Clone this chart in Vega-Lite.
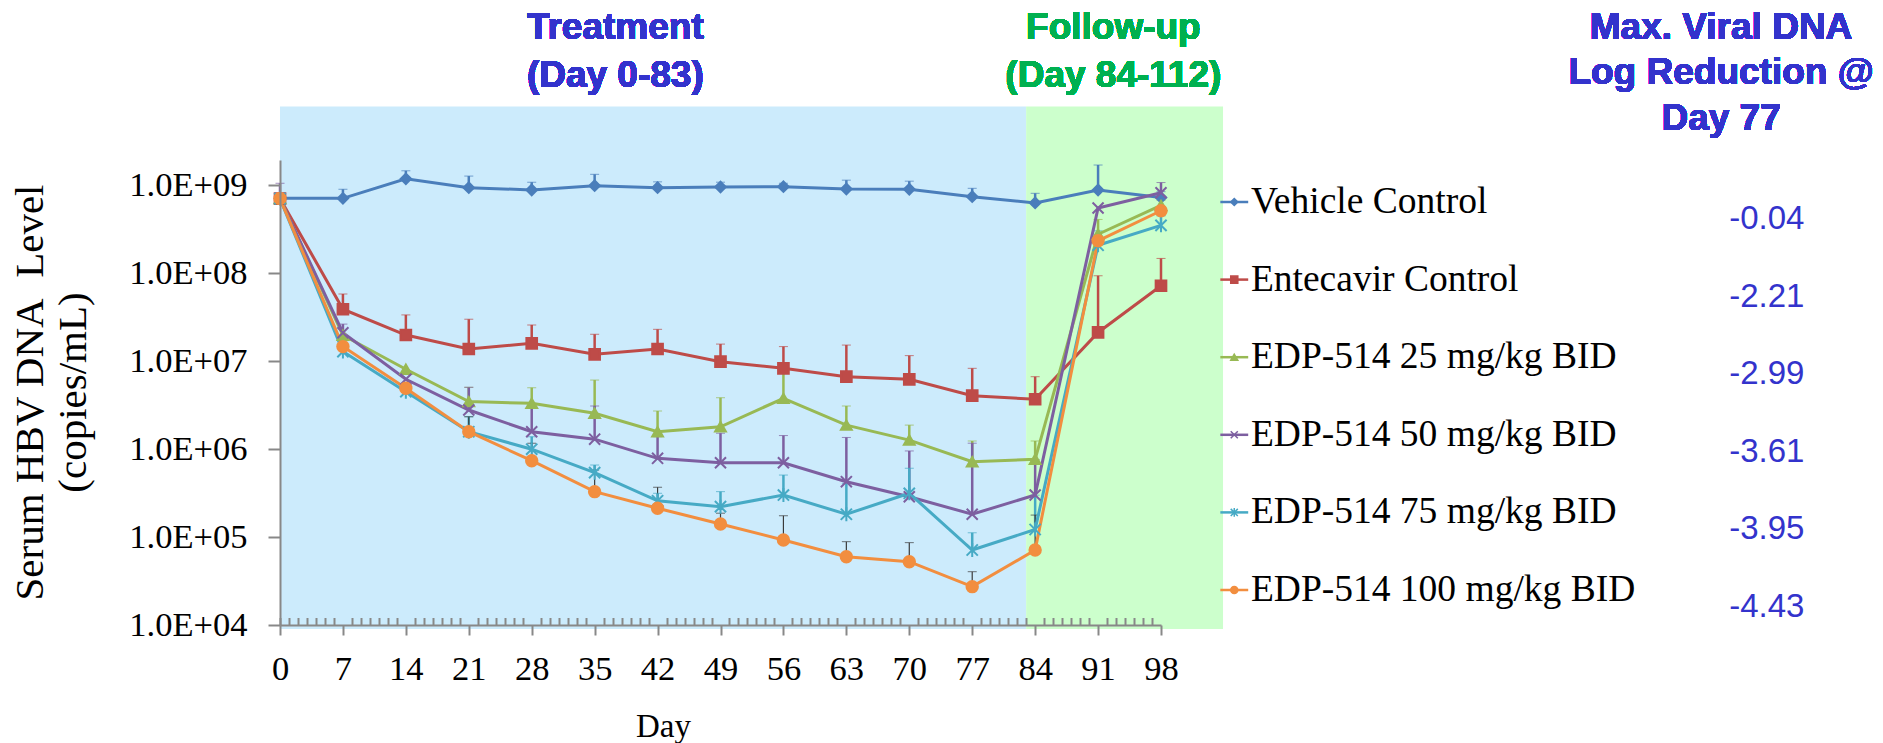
{
  "$schema": "https://vega.github.io/schema/vega-lite/v6.json",
  "width": 881,
  "height": 465,
  "autosize": {"type": "none"},
  "padding": {"left": 280, "top": 160, "right": 722, "bottom": 118},
  "background": "white",
  "config": {"view": {"stroke": null}, "font": "Liberation Serif"},
  "datasets": {
    "hbv": [
      {"series": "Vehicle Control", "day": 0, "value": 7.14e8, "upper": null},
      {"series": "Vehicle Control", "day": 7, "value": 7.14e8, "upper": 9.06e8},
      {"series": "Vehicle Control", "day": 14, "value": 1.19e9, "upper": 1.47e9},
      {"series": "Vehicle Control", "day": 21, "value": 9.44e8, "upper": 1.28e9},
      {"series": "Vehicle Control", "day": 28, "value": 8.89e8, "upper": 1.09e9},
      {"series": "Vehicle Control", "day": 35, "value": 9.95e8, "upper": 1.34e9},
      {"series": "Vehicle Control", "day": 42, "value": 9.44e8, "upper": 1.10e9},
      {"series": "Vehicle Control", "day": 49, "value": 9.62e8, "upper": 1.09e9},
      {"series": "Vehicle Control", "day": 56, "value": 9.70e8, "upper": 1.06e9},
      {"series": "Vehicle Control", "day": 63, "value": 9.12e8, "upper": 1.15e9},
      {"series": "Vehicle Control", "day": 70, "value": 9.06e8, "upper": 1.12e9},
      {"series": "Vehicle Control", "day": 77, "value": 7.46e8, "upper": 9.29e8},
      {"series": "Vehicle Control", "day": 84, "value": 6.34e8, "upper": 8.15e8},
      {"series": "Vehicle Control", "day": 91, "value": 8.89e8, "upper": 1.71e9},
      {"series": "Vehicle Control", "day": 98, "value": 7.28e8, "upper": 8.5e8},
      {"series": "Entecavir Control", "day": 0, "value": 7.1e8, "upper": null},
      {"series": "Entecavir Control", "day": 7, "value": 3.91e7, "upper": 5.83e7},
      {"series": "Entecavir Control", "day": 14, "value": 1.99e7, "upper": 3.37e7},
      {"series": "Entecavir Control", "day": 21, "value": 1.38e7, "upper": 3.01e7},
      {"series": "Entecavir Control", "day": 28, "value": 1.60e7, "upper": 2.59e7},
      {"series": "Entecavir Control", "day": 35, "value": 1.20e7, "upper": 2.03e7},
      {"series": "Entecavir Control", "day": 42, "value": 1.38e7, "upper": 2.31e7},
      {"series": "Entecavir Control", "day": 49, "value": 9.91e6, "upper": 1.57e7},
      {"series": "Entecavir Control", "day": 56, "value": 8.32e6, "upper": 1.47e7},
      {"series": "Entecavir Control", "day": 63, "value": 6.68e6, "upper": 1.53e7},
      {"series": "Entecavir Control", "day": 70, "value": 6.24e6, "upper": 1.16e7},
      {"series": "Entecavir Control", "day": 77, "value": 4.06e6, "upper": 8.32e6},
      {"series": "Entecavir Control", "day": 84, "value": 3.7e6, "upper": 6.68e6},
      {"series": "Entecavir Control", "day": 91, "value": 2.13e7, "upper": 9.4e7},
      {"series": "Entecavir Control", "day": 98, "value": 7.23e7, "upper": 1.48e8},
      {"series": "EDP-514 25 mg/kg BID", "day": 0, "value": 7.1e8, "upper": null},
      {"series": "EDP-514 25 mg/kg BID", "day": 7, "value": 1.98e7, "upper": null},
      {"series": "EDP-514 25 mg/kg BID", "day": 14, "value": 8.11e6, "upper": null},
      {"series": "EDP-514 25 mg/kg BID", "day": 21, "value": 3.48e6, "upper": 5.06e6},
      {"series": "EDP-514 25 mg/kg BID", "day": 28, "value": 3.33e6, "upper": 5.01e6},
      {"series": "EDP-514 25 mg/kg BID", "day": 35, "value": 2.56e6, "upper": 6.12e6},
      {"series": "EDP-514 25 mg/kg BID", "day": 42, "value": 1.58e6, "upper": 2.72e6},
      {"series": "EDP-514 25 mg/kg BID", "day": 49, "value": 1.80e6, "upper": 3.85e6},
      {"series": "EDP-514 25 mg/kg BID", "day": 56, "value": 3.79e6, "upper": 7.96e6},
      {"series": "EDP-514 25 mg/kg BID", "day": 63, "value": 1.88e6, "upper": 3.10e6},
      {"series": "EDP-514 25 mg/kg BID", "day": 70, "value": 1.27e6, "upper": 1.88e6},
      {"series": "EDP-514 25 mg/kg BID", "day": 77, "value": 7.21e5, "upper": 1.24e6},
      {"series": "EDP-514 25 mg/kg BID", "day": 84, "value": 7.67e5, "upper": 1.24e6},
      {"series": "EDP-514 25 mg/kg BID", "day": 91, "value": 2.79e8, "upper": 4.11e8},
      {"series": "EDP-514 25 mg/kg BID", "day": 98, "value": 5.93e8, "upper": 6.79e8},
      {"series": "EDP-514 50 mg/kg BID", "day": 0, "value": 7.1e8, "upper": 1.06e9},
      {"series": "EDP-514 50 mg/kg BID", "day": 7, "value": 2.11e7, "upper": 2.65e7},
      {"series": "EDP-514 50 mg/kg BID", "day": 14, "value": 6.24e6, "upper": null},
      {"series": "EDP-514 50 mg/kg BID", "day": 21, "value": 2.79e6, "upper": 5.06e6},
      {"series": "EDP-514 50 mg/kg BID", "day": 28, "value": 1.58e6, "upper": 2.92e6},
      {"series": "EDP-514 50 mg/kg BID", "day": 35, "value": 1.30e6, "upper": 3.10e6},
      {"series": "EDP-514 50 mg/kg BID", "day": 42, "value": 7.87e5, "upper": 1.39e6},
      {"series": "EDP-514 50 mg/kg BID", "day": 49, "value": 7.02e5, "upper": 1.52e6},
      {"series": "EDP-514 50 mg/kg BID", "day": 56, "value": 7.02e5, "upper": 1.43e6},
      {"series": "EDP-514 50 mg/kg BID", "day": 63, "value": 4.27e5, "upper": 1.36e6},
      {"series": "EDP-514 50 mg/kg BID", "day": 70, "value": 2.88e5, "upper": 9.55e5},
      {"series": "EDP-514 50 mg/kg BID", "day": 77, "value": 1.82e5, "upper": 1.17e6},
      {"series": "EDP-514 50 mg/kg BID", "day": 84, "value": 3.01e5, "upper": 7.6e5},
      {"series": "EDP-514 50 mg/kg BID", "day": 91, "value": 5.55e8, "upper": null},
      {"series": "EDP-514 50 mg/kg BID", "day": 98, "value": 8.28e8, "upper": 1.08e9},
      {"series": "EDP-514 75 mg/kg BID", "day": 0, "value": 7.1e8, "upper": null},
      {"series": "EDP-514 75 mg/kg BID", "day": 7, "value": 1.29e7, "upper": null},
      {"series": "EDP-514 75 mg/kg BID", "day": 14, "value": 4.51e6, "upper": null},
      {"series": "EDP-514 75 mg/kg BID", "day": 21, "value": 1.58e6, "upper": 2.34e6},
      {"series": "EDP-514 75 mg/kg BID", "day": 28, "value": 1.0e6, "upper": 1.39e6},
      {"series": "EDP-514 75 mg/kg BID", "day": 35, "value": 5.41e5, "upper": 6.61e5},
      {"series": "EDP-514 75 mg/kg BID", "day": 42, "value": 2.59e5, "upper": 3.15e5},
      {"series": "EDP-514 75 mg/kg BID", "day": 49, "value": 2.22e5, "upper": 3.29e5},
      {"series": "EDP-514 75 mg/kg BID", "day": 56, "value": 3.01e5, "upper": 5.08e5},
      {"series": "EDP-514 75 mg/kg BID", "day": 63, "value": 1.82e5, "upper": 4.09e5},
      {"series": "EDP-514 75 mg/kg BID", "day": 70, "value": 3.15e5, "upper": 6.07e5},
      {"series": "EDP-514 75 mg/kg BID", "day": 77, "value": 7.13e4, "upper": 1.12e5},
      {"series": "EDP-514 75 mg/kg BID", "day": 84, "value": 1.22e5, "upper": 3.0e5},
      {"series": "EDP-514 75 mg/kg BID", "day": 91, "value": 2.09e8, "upper": 3.05e8},
      {"series": "EDP-514 75 mg/kg BID", "day": 98, "value": 3.52e8, "upper": 4.51e8},
      {"series": "EDP-514 100 mg/kg BID", "day": 0, "value": 7.1e8, "upper": null},
      {"series": "EDP-514 100 mg/kg BID", "day": 7, "value": 1.47e7, "upper": null},
      {"series": "EDP-514 100 mg/kg BID", "day": 14, "value": 4.93e6, "upper": null},
      {"series": "EDP-514 100 mg/kg BID", "day": 21, "value": 1.58e6, "upper": 2.34e6},
      {"series": "EDP-514 100 mg/kg BID", "day": 28, "value": 7.40e5, "upper": 1.17e6},
      {"series": "EDP-514 100 mg/kg BID", "day": 35, "value": 3.29e5, "upper": 5.79e5},
      {"series": "EDP-514 100 mg/kg BID", "day": 42, "value": 2.13e5, "upper": 3.69e5},
      {"series": "EDP-514 100 mg/kg BID", "day": 49, "value": 1.41e5, "upper": 1.87e5},
      {"series": "EDP-514 100 mg/kg BID", "day": 56, "value": 9.27e4, "upper": 1.75e5},
      {"series": "EDP-514 100 mg/kg BID", "day": 63, "value": 5.98e4, "upper": 8.87e4},
      {"series": "EDP-514 100 mg/kg BID", "day": 70, "value": 5.25e4, "upper": 8.65e4},
      {"series": "EDP-514 100 mg/kg BID", "day": 77, "value": 2.73e4, "upper": 4.04e4},
      {"series": "EDP-514 100 mg/kg BID", "day": 84, "value": 7.13e4, "upper": 1.78e5},
      {"series": "EDP-514 100 mg/kg BID", "day": 91, "value": 2.35e8, "upper": null},
      {"series": "EDP-514 100 mg/kg BID", "day": 98, "value": 5.16e8, "upper": null}
    ],
    "phases": [
      {"phase": "Treatment", "start": 0, "end": 83},
      {"phase": "Follow-up", "start": 83, "end": 104.9}
    ],
    "reduction": [
      {"series": "Vehicle Control", "reduction": "-0.04"},
      {"series": "Entecavir Control", "reduction": "-2.21"},
      {"series": "EDP-514 25 mg/kg BID", "reduction": "-2.99"},
      {"series": "EDP-514 50 mg/kg BID", "reduction": "-3.61"},
      {"series": "EDP-514 75 mg/kg BID", "reduction": "-3.95"},
      {"series": "EDP-514 100 mg/kg BID", "reduction": "-4.43"}
    ]
  },
  "layer": [
    {
      "data": {"name": "hbv"},
      "layer": [
        {
          "data": {"name": "phases"},
          "mark": {"type": "rect"},
          "encoding": {
            "x": {"field": "start", "type": "quantitative", "title": "Day"},
            "x2": {"field": "end"},
            "y": {"datum": 9000, "type": "quantitative"},
            "y2": {"datum": 7.9e9},
            "fill": {"condition": {"test": "datum.phase === 'Treatment'", "value": "#CCEBFC"}, "value": "#CCFFCC"}
          }
        },
        {
          "mark": {"type": "text", "font": "Liberation Sans", "fontWeight": "bold", "fontSize": 37, "lineHeight": 48, "align": "center", "baseline": "middle", "color": "#3333CC"},
          "encoding": {
            "x": {"datum": 37.3, "type": "quantitative"},
            "y": {"datum": 6.2e10, "type": "quantitative"},
            "text": {"value": ["Treatment", "(Day 0-83)"]}
          }
        },
        {
          "mark": {"type": "text", "font": "Liberation Sans", "fontWeight": "bold", "fontSize": 37, "lineHeight": 48, "align": "center", "baseline": "middle", "color": "#00B050"},
          "encoding": {
            "x": {"datum": 92.7, "type": "quantitative"},
            "y": {"datum": 6.2e10, "type": "quantitative"},
            "text": {"value": ["Follow-up", "(Day 84-112)"]}
          }
        },
        {
          "mark": {"type": "text", "font": "Liberation Sans", "fontWeight": "bold", "fontSize": 37, "lineHeight": 45.5, "align": "center", "baseline": "middle", "color": "#3333CC"},
          "encoding": {
            "x": {"datum": 160.3, "type": "quantitative"},
            "y": {"datum": 6.2e10, "type": "quantitative"},
            "text": {"value": ["Max. Viral DNA", "Log Reduction @", "Day 77"]}
          }
        },
        {
          "transform": [{"filter": "datum.upper != null"}],
          "mark": {"type": "rule"},
          "encoding": {
            "x": {"field": "day", "type": "quantitative", "title": "Day"},
            "y": {"field": "value", "type": "quantitative", "title": ["Serum HBV DNA\u00a0 Level", "(copies/mL)"]},
            "y2": {"field": "upper"},
            "color": {"condition": {"test": "datum.series === 'EDP-514 100 mg/kg BID'", "value": "#3A3A3A"}, "field": "series", "type": "nominal", "legend": null},
            "strokeWidth": {"condition": {"test": "datum.series === 'EDP-514 100 mg/kg BID'", "value": 1.2}, "value": 2.5}
          }
        },
        {
          "transform": [{"filter": "datum.upper != null"}],
          "mark": {"type": "tick", "orient": "horizontal", "size": 9},
          "encoding": {
            "x": {"field": "day", "type": "quantitative", "title": "Day"},
            "y": {"field": "upper", "type": "quantitative", "title": ["Serum HBV DNA\u00a0 Level", "(copies/mL)"]},
            "color": {"condition": {"test": "datum.series === 'EDP-514 100 mg/kg BID'", "value": "#3A3A3A"}, "field": "series", "type": "nominal", "legend": null},
            "thickness": {"condition": {"test": "datum.series === 'EDP-514 100 mg/kg BID'", "value": 1.2}, "value": 2.5}
          }
        },
        {
          "mark": {"type": "line", "strokeWidth": 3},
          "encoding": {
            "x": {
              "field": "day", "type": "quantitative", "title": "Day",
              "scale": {"domain": [0, 98], "nice": false, "zero": false},
              "axis": {
                "values": [0, 7, 14, 21, 28, 35, 42, 49, 56, 63, 70, 77, 84, 91, 98],
                "labelOverlap": false,
                "labelFlush": false,
                "labelFont": "Liberation Serif",
                "labelFontSize": 34.5,
                "labelColor": "#000000",
                "labelPadding": 17,
                "tickSize": 10,
                "tickColor": "#888888",
                "tickWidth": 2,
                "domainColor": "#888888",
                "domainWidth": 2,
                "grid": false,
                "zindex": 1,
                "titleFont": "Liberation Serif",
                "titleFontSize": 33,
                "titleFontWeight": "normal",
                "titleColor": "#000000",
                "titleX": 383,
                "titleY": 101,
                "titleBaseline": "middle",
                "titleAnchor": "middle",
                "titleAlign": "center",
                "encode": {"ticks": {"update": {"y": {"value": -7.5}}}}
              }
            },
            "y": {
              "field": "value", "type": "quantitative", "title": ["Serum HBV DNA\u00a0 Level", "(copies/mL)"],
              "scale": {"type": "log", "domain": [10000, 1950000000], "nice": false},
              "axis": {
                "values": [10000, 100000, 1000000, 10000000, 100000000, 1000000000],
                "labelExpr": "'1.0E+0' + round(log(datum.value) / LN10)",
                "labelFont": "Liberation Serif",
                "labelFontSize": 34.5,
                "labelColor": "#000000",
                "labelPadding": 21,
                "labelFlush": false,
                "labelOverlap": false,
                "tickSize": 12,
                "tickColor": "#888888",
                "tickWidth": 2,
                "domainColor": "#888888",
                "domainWidth": 2,
                "grid": false,
                "zindex": 1,
                "titleFont": "Liberation Serif",
                "titleFontSize": 41,
                "titleFontWeight": "normal",
                "titleColor": "#000000",
                "titleLineHeight": 43,
                "titleX": -250,
                "titleY": 232,
                "titleAngle": 270,
                "titleBaseline": "middle",
                "titleAlign": "center"
              }
            },
            "color": {
              "field": "series", "type": "nominal", "legend": null,
              "scale": {
                "domain": ["Vehicle Control", "Entecavir Control", "EDP-514 25 mg/kg BID", "EDP-514 50 mg/kg BID", "EDP-514 75 mg/kg BID", "EDP-514 100 mg/kg BID"],
                "range": ["#4A7EBB", "#BE4B48", "#98B954", "#7D5FA0", "#46AAC5", "#F28E3F"]
              }
            },
            "order": {"field": "day", "type": "quantitative"}
          }
        },
        {
          "mark": {"type": "point", "filled": true, "strokeWidth": 2, "opacity": 1},
          "encoding": {
            "x": {"field": "day", "type": "quantitative", "title": "Day"},
            "y": {"field": "value", "type": "quantitative", "title": ["Serum HBV DNA\u00a0 Level", "(copies/mL)"]},
            "fill": {
              "field": "series", "type": "nominal", "legend": null,
              "scale": {
                "domain": ["Vehicle Control", "Entecavir Control", "EDP-514 25 mg/kg BID", "EDP-514 50 mg/kg BID", "EDP-514 75 mg/kg BID", "EDP-514 100 mg/kg BID"],
                "range": ["#4A7EBB", "#BE4B48", "#98B954", "#7D5FA0", "#46AAC5", "#F28E3F"]
              }
            },
            "stroke": {
              "field": "series", "type": "nominal", "legend": null,
              "scale": {
                "domain": ["Vehicle Control", "Entecavir Control", "EDP-514 25 mg/kg BID", "EDP-514 50 mg/kg BID", "EDP-514 75 mg/kg BID", "EDP-514 100 mg/kg BID"],
                "range": ["#4A7EBB", "#BE4B48", "#98B954", "#7D5FA0", "#46AAC5", "#F28E3F"]
              }
            },
            "shape": {
              "field": "series", "type": "nominal", "legend": null,
              "scale": {
                "domain": ["Vehicle Control", "Entecavir Control", "EDP-514 25 mg/kg BID", "EDP-514 50 mg/kg BID", "EDP-514 75 mg/kg BID", "EDP-514 100 mg/kg BID"],
                "range": ["diamond", "square", "triangle-up", "M-1,-1L1,1M-1,1L1,-1", "M-1,-1L1,1M-1,1L1,-1M0,-1.25L0,1.25", "circle"]
              }
            },
            "size": {
              "field": "series", "type": "nominal", "legend": null,
              "scale": {
                "domain": ["Vehicle Control", "Entecavir Control", "EDP-514 25 mg/kg BID", "EDP-514 50 mg/kg BID", "EDP-514 75 mg/kg BID", "EDP-514 100 mg/kg BID"],
                "range": [110, 130, 140, 100, 110, 140]
              }
            }
          }
        }
      ]
    },
    {
      "data": {"name": "reduction"},
      "layer": [
        {
          "mark": {"type": "rule", "strokeWidth": 2.5},
          "encoding": {
            "x": {"datum": 104.6, "type": "quantitative", "axis": null},
            "x2": {"datum": 107.7},
            "y": {"field": "series", "type": "nominal", "axis": null, "scale": {"type": "point", "domain": ["Vehicle Control", "Entecavir Control", "EDP-514 25 mg/kg BID", "EDP-514 50 mg/kg BID", "EDP-514 75 mg/kg BID", "EDP-514 100 mg/kg BID"], "range": [42, 430], "padding": 0}},
            "color": {"field": "series", "type": "nominal", "legend": null}
          }
        },
        {
          "mark": {"type": "point", "filled": true, "strokeWidth": 1.5, "opacity": 1, "size": 50},
          "encoding": {
            "x": {"datum": 106.15, "type": "quantitative", "axis": null},
            "y": {"field": "series", "type": "nominal", "axis": null},
            "fill": {"field": "series", "type": "nominal", "legend": null},
            "stroke": {"field": "series", "type": "nominal", "legend": null},
            "shape": {"field": "series", "type": "nominal", "legend": null}
          }
        },
        {
          "mark": {"type": "text", "align": "left", "baseline": "middle", "font": "Liberation Serif", "fontSize": 37.5, "color": "#000000"},
          "encoding": {
            "x": {"datum": 108.0, "type": "quantitative", "axis": null},
            "y": {"field": "series", "type": "nominal", "axis": null},
            "text": {"field": "series"}
          }
        },
        {
          "mark": {"type": "text", "align": "left", "baseline": "middle", "font": "Liberation Sans", "fontSize": 33, "color": "#3333CC", "dy": 17},
          "encoding": {
            "x": {"datum": 161.2, "type": "quantitative", "axis": null},
            "y": {"field": "series", "type": "nominal", "axis": null},
            "text": {"field": "reduction"}
          }
        }
      ]
    },
    {
      "data": {"name": "hbv"},
      "mark": {"type": "rule", "opacity": 0},
      "encoding": {
        "x": {
          "field": "day", "type": "quantitative",
          "axis": {
            "orient": "top",
            "offset": -465,
            "values": [0,1,2,3,4,5,6,8,9,10,11,12,13,15,16,17,18,19,20,22,23,24,25,26,27,29,30,31,32,33,34,36,37,38,39,40,41,43,44,45,46,47,48,50,51,52,53,54,55,57,58,59,60,61,62,64,65,66,67,68,69,71,72,73,74,75,76,78,79,80,81,82,83,85,86,87,88,89,90,92,93,94,95,96,97],
            "labels": false,
            "domain": false,
            "grid": false,
            "tickSize": 7.5,
            "tickColor": "#888888",
            "tickWidth": 2,
            "title": null,
            "zindex": 1
          }
        }
      }
    }
  ],
  "resolve": {"scale": {"y": "independent"}, "axis": {"x": "independent", "y": "independent"}}
}
